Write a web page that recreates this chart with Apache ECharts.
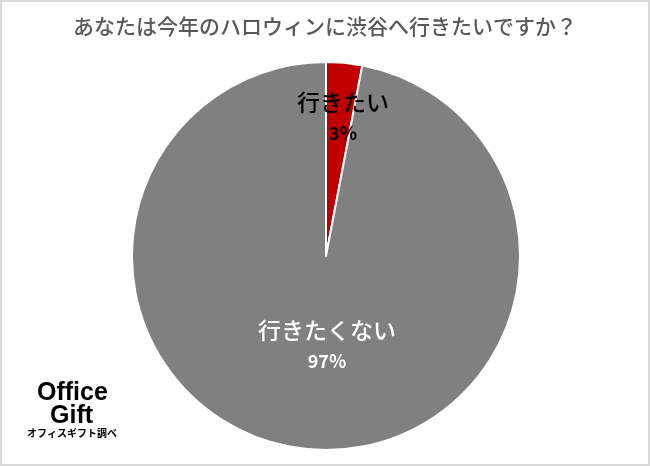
<!DOCTYPE html>
<html><head><meta charset="utf-8">
<script src="https://cdn.jsdelivr.net/npm/echarts@6/dist/echarts.min.js"></script>
<style>html,body{margin:0;padding:0;background:#fff}#c{width:650px;height:466px;box-sizing:border-box;border:2px solid #d9d9d9}</style>
</head><body><div id="c"></div>
<script>
const title = 'あなたは今年のハロウィンに渋谷へ行きたいですか？';
const categories = ['行きたい', '行きたくない'];
const values = [3, 97];
const colors = ['#c00000', '#808080'];
const labelColors = ['#000000', '#ffffff'];
const labelPos = [[341, 114], [325, 342]];

const chart = echarts.init(document.getElementById('c'), null, {renderer: 'canvas'});
const jp = '"Noto Sans CJK JP", sans-serif';
chart.setOption({
  animation: false,
  title: {text: title, left: 'center', top: 9,
    textStyle: {fontFamily: jp, fontSize: 21, fontWeight: 500, color: '#595959'}},
  graphic: [
    {type: 'text', left: 35, top: 379, style: {text: 'Office', font: 'bold 25px "Liberation Sans", Arial, sans-serif', fill: '#000'}},
    {type: 'text', left: 48, top: 402, style: {text: 'Gift', font: 'bold 25px "Liberation Sans", Arial, sans-serif', fill: '#000'}},
    {type: 'text', left: 25, top: 426, style: {text: 'オフィスギフト調べ', font: 'bold 10px "Noto Sans CJK JP", sans-serif', fill: '#000'}}
  ],
  series: [{
    type: 'pie',
    center: [324, 254],
    radius: 194,
    startAngle: 90,
    clockwise: true,
    itemStyle: {borderColor: '#fff', borderWidth: 2},
    label: {
      show: true, position: 'inside',
      formatter: p => '{a|' + p.name + '}\n{b|' + p.value + '%}',
      rich: {
        a: {fontFamily: jp, fontSize: 23, fontWeight: 500, lineHeight: 34},
        b: {fontFamily: jp, fontSize: 18, fontWeight: 'bold', lineHeight: 28}
      }
    },
    labelLayout: p => ({x: labelPos[p.dataIndex][0], y: labelPos[p.dataIndex][1], align: 'center', verticalAlign: 'middle'}),
    data: categories.map((n, i) => ({name: n, value: values[i], itemStyle: {color: colors[i]},
      label: {color: labelColors[i], rich: {a: {color: labelColors[i]}, b: {color: labelColors[i]}}}}))
  }]
});
</script></body></html>
